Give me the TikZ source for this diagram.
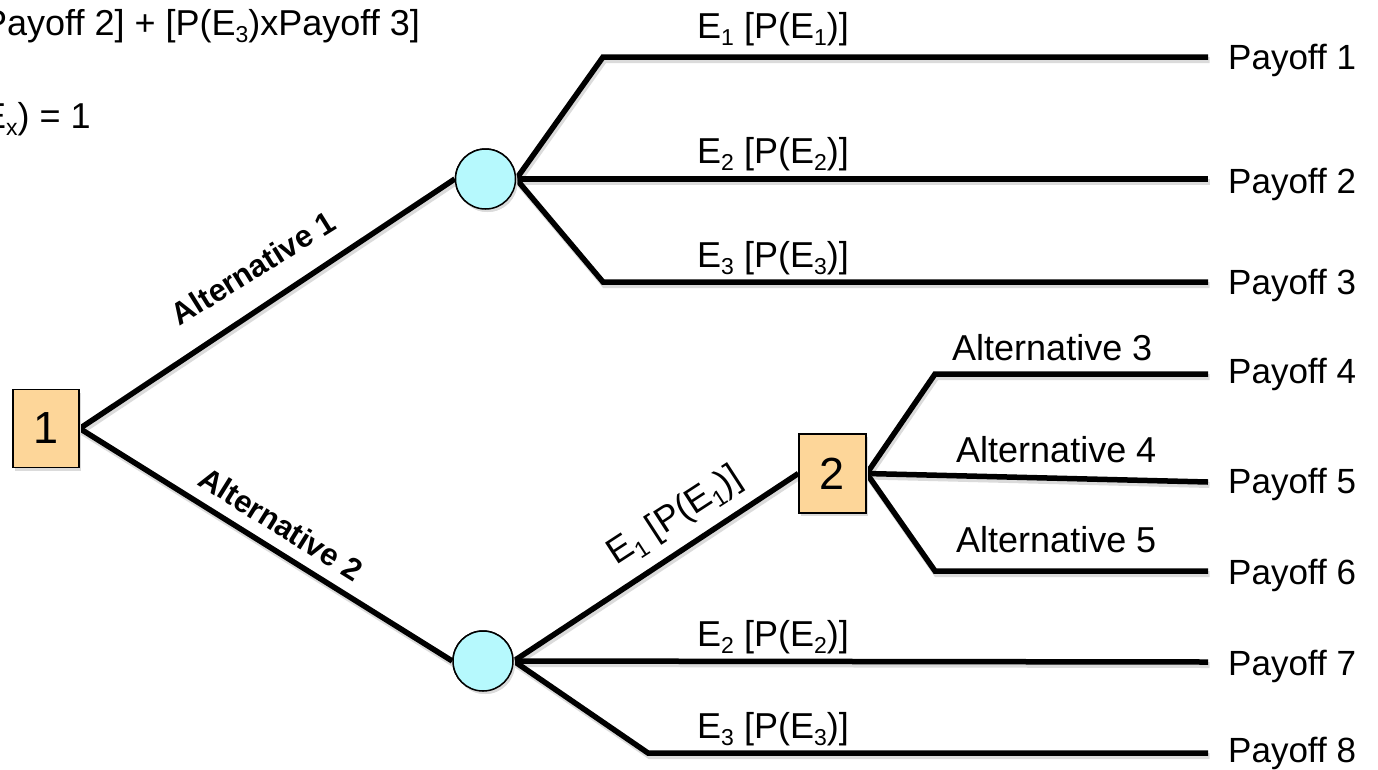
\documentclass[tikz,border=0pt]{standalone}
\usepackage{fontspec}
\setmainfont{Liberation Sans}
% subscript set in the text font
\newcommand{\sbs}[1]{\raisebox{-0.22em}{\fontsize{23}{23}\selectfont #1}}
\begin{document}
\begin{tikzpicture}[x=1pt,y=-1pt,
  txt/.style={inner sep=0pt, font=\fontsize{36}{40}\selectfont},
  paylab/.style={inner sep=0pt, anchor=base west, font=\fontsize{35}{40}\selectfont},
  altlab/.style={inner sep=0pt, font=\fontsize{31}{34}\selectfont\bfseries},
  branch/.style={line width=5.5pt, line join=miter,
    preaction={draw=black!14, line width=6pt,
      transform canvas={shift={(1.5pt,-3pt)}}}},
  dbox/.style={draw=black, line width=1.5pt, fill={rgb,255:red,253;green,214;blue,153},
    minimum width=66pt, minimum height=78pt, inner sep=0pt,
    font=\fontsize{45}{50}\selectfont,
    preaction={fill=black!14, transform canvas={shift={(2pt,-3pt)}}}},
  chance/.style={circle, draw=black, line width=1.5pt, fill={rgb,255:red,182;green,249;blue,253},
    minimum size=60pt, inner sep=0pt,
    preaction={fill=black!14, transform canvas={shift={(2pt,-3pt)}}}},
]
\useasboundingbox (0,0) rectangle (1378,769);
\clip (0,0) rectangle (1378,769);

% formula text in the upper left corner
\node[txt, anchor=base west] (f1) at (-17,35) {Payoff 2] + [P(E\sbs{3})xPayoff 3]};
\node[txt, anchor=base west] (f2) at (-18,128) {E\sbs{x}) = 1};

% decision and chance nodes
\node[dbox] (d1) at (46,428.5) {1};
\node[chance] (c1) at (485.5,179) {};
\node[chance] (c2) at (483,661) {};
\node[dbox, minimum width=67pt, minimum height=79pt] (d2) at (832.5,473.5) {2};

% bends and end points of the branches
\coordinate (k1) at (603,57);   \coordinate (e1) at (1208,57);
\coordinate (e2) at (1208,179);
\coordinate (k3) at (603,282);  \coordinate (e3) at (1208,282);
\coordinate (k4) at (935,374);  \coordinate (e4) at (1208,374);
\coordinate (e5) at (1208,482);
\coordinate (k6) at (935,571);  \coordinate (e6) at (1208,571);
\coordinate (e7) at (1208,662);
\coordinate (k8) at (648,753);  \coordinate (e8) at (1208,753);

% branches
\draw[branch] (d1.east) -- (c1.west);
\draw[branch] (d1.east) -- (c2.west);
\draw[branch] (c1.east) -- (k1) -- (e1);
\draw[branch] (c1.east) -- (e2);
\draw[branch] (c1.east) -- (k3) -- (e3);
\draw[branch] (c2.east) -- (d2.west);
\draw[branch] (c2.east) -- (e7);
\draw[branch] (c2.east) -- (k8) -- (e8);
\draw[branch] (d2.east) -- (k4) -- (e4);
\draw[branch] (d2.east) -- (e5);
\draw[branch] (d2.east) -- (k6) -- (e6);

% redraw nodes above the line ends
\node[dbox] at (d1) {1};
\node[chance] at (c1) {};
\node[chance] at (c2) {};
\node[dbox, minimum width=67pt, minimum height=79pt] at (d2) {2};

% branch labels
\node[altlab, rotate=32] (a1) at (253,268) {Alternative 1};
\node[altlab, rotate=-32] (a2) at (281,524) {Alternative 2};
\node[txt, rotate=33] (l6) at (675,517) {E\sbs{1} [P(E\sbs{1})]};

\node[txt, anchor=base west] (l1) at (697,38)  {E\sbs{1} [P(E\sbs{1})]};
\node[txt, anchor=base west] (l2) at (697,163) {E\sbs{2} [P(E\sbs{2})]};
\node[txt, anchor=base west] (l3) at (697,267) {E\sbs{3} [P(E\sbs{3})]};
\node[txt, anchor=base west] (l7) at (697,646) {E\sbs{2} [P(E\sbs{2})]};
\node[txt, anchor=base west] (l8) at (697,738) {E\sbs{3} [P(E\sbs{3})]};

\node[txt, anchor=base west] (a3) at (952,360) {Alternative 3};
\node[txt, anchor=base west] (a4) at (956,462) {Alternative 4};
\node[txt, anchor=base west] (a5) at (956,552) {Alternative 5};

% payoffs
\node[paylab] (p1) at (1228,69)  {Payoff 1};
\node[paylab] (p2) at (1228,193) {Payoff 2};
\node[paylab] (p3) at (1228,294) {Payoff 3};
\node[paylab] (p4) at (1228,383) {Payoff 4};
\node[paylab] (p5) at (1228,493) {Payoff 5};
\node[paylab] (p6) at (1228,584) {Payoff 6};
\node[paylab] (p7) at (1228,675) {Payoff 7};
\node[paylab] (p8) at (1228,762) {Payoff 8};
\end{tikzpicture}
\end{document}
